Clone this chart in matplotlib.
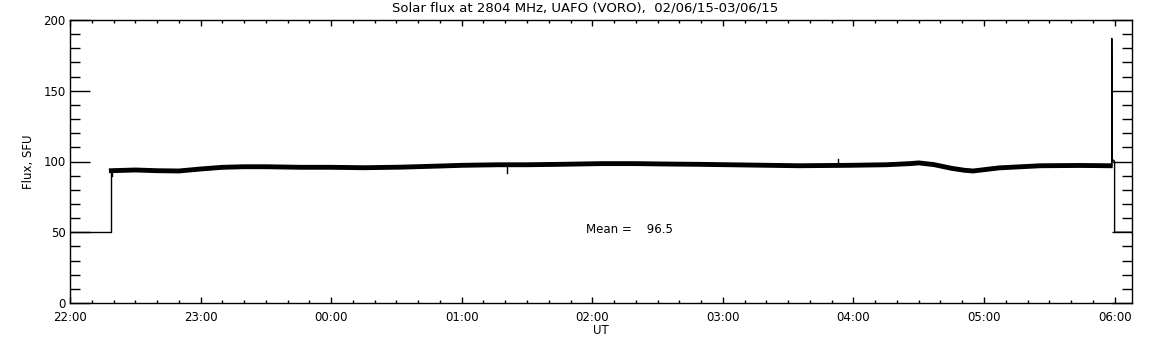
import pandas as pd
import numpy as np
import matplotlib
matplotlib.use('Agg')
import matplotlib.pyplot as plt
import matplotlib.dates as mdates

# Start of the plotted day (UT)
day0 = '2015-06-02'
day1 = '2015-06-03'

# Step parts of the record (thin line): off-level before/after observation
step_time = ['22:00', '22:19', '22:19']
step_flux = [50, 50, 93.5]
end_time = ['05:58', '05:58.7', '05:58.7', '05:58.9', '05:59.5', '06:00', '06:00', '06:08']
end_flux = [97.0, 97.0, 187, 100, 101, 100, 50, 50]

# Noisy flux band (trend)
band_time = ['22:19', '22:30', '22:40', '22:50', '23:00', '23:10', '23:20', '23:30',
             '23:46', '00:00', '00:15', '00:32', '00:50', '01:00', '01:17', '01:30',
             '01:45', '02:04', '02:20', '02:35', '02:49', '03:12', '03:35', '03:58',
             '04:15', '04:26', '04:30', '04:37', '04:45', '04:51', '04:55', '05:07',
             '05:26', '05:44', '05:58']
band_flux = [93.5, 94.0, 93.5, 93.3, 94.7, 95.9, 96.3, 96.3,
             95.9, 95.9, 95.6, 96.0, 96.8, 97.3, 97.7, 97.7,
             98.0, 98.5, 98.5, 98.2, 98.0, 97.5, 97.0, 97.3,
             97.7, 98.5, 99.0, 97.8, 95.2, 93.8, 93.3, 95.5,
             97.0, 97.2, 97.0]

# Isolated spikes
spike_time = ['22:19.5', '01:21', '03:53']
spike_base = [93.5, 97.7, 97.3]
spike_flux = [90, 92, 101.8]

mean_flux = 96.5


def to_dt(hhmm):
    h, m = hhmm.split(':')
    day = day0 if int(h) >= 12 else day1
    return pd.Timestamp(f'{day} {int(h):02d}:00') + pd.Timedelta(minutes=float(m))


fig = plt.figure(figsize=(11.52, 3.45), dpi=100)
ax = fig.add_axes([70 / 1152, 42 / 345, 1062 / 1152, 283 / 345])

ax.plot([to_dt(t) for t in step_time], step_flux, color='black', lw=1.0)
ax.plot([to_dt(t) for t in end_time], end_flux, color='black', lw=1.0)
ax.plot([to_dt(t) for t in band_time], band_flux, color='black', lw=3.5,
        solid_joinstyle='miter')
for t, b, s in zip(spike_time, spike_base, spike_flux):
    ax.plot([to_dt(t), to_dt(t)], [b, s], color='black', lw=1.0)

ax.set_xlim(to_dt('22:00'), to_dt('06:08'))
ax.set_ylim(0, 200)

ax.xaxis.set_major_locator(mdates.HourLocator())
ax.xaxis.set_minor_locator(mdates.MinuteLocator(byminute=range(0, 60, 10)))
ax.xaxis.set_major_formatter(mdates.DateFormatter('%H:%M'))
ax.set_yticks(range(0, 201, 50))
ax.set_yticks(range(0, 201, 10), minor=True)

ax.tick_params(axis='x', which='major', direction='in', length=4, width=1,
               top=True, labelsize=8.5, pad=6)
ax.tick_params(axis='x', which='minor', direction='in', length=2.2, width=1, top=True)
ax.tick_params(axis='y', which='major', direction='in', length=14.4, width=1,
               right=True, labelsize=8.5, pad=3)
ax.tick_params(axis='y', which='minor', direction='in', length=7.2, width=1, right=True)
for sp in ax.spines.values():
    sp.set_linewidth(1.0)

ax.set_xlabel('UT', fontsize=8.5, labelpad=0)
ax.set_ylabel('Flux, SFU', fontsize=8.5, labelpad=6)
fig.text(585 / 1152, 1 - 8 / 345, 'Solar flux at 2804 MHz, UAFO (VORO),  02/06/15-03/06/15',
         fontsize=9.5, ha='center', va='center')

ax.text(to_dt('01:57'), 51.6, f'Mean =    {mean_flux:.1f}', fontsize=8.5, ha='left', va='center')

plt.savefig('out.png', dpi=100)
